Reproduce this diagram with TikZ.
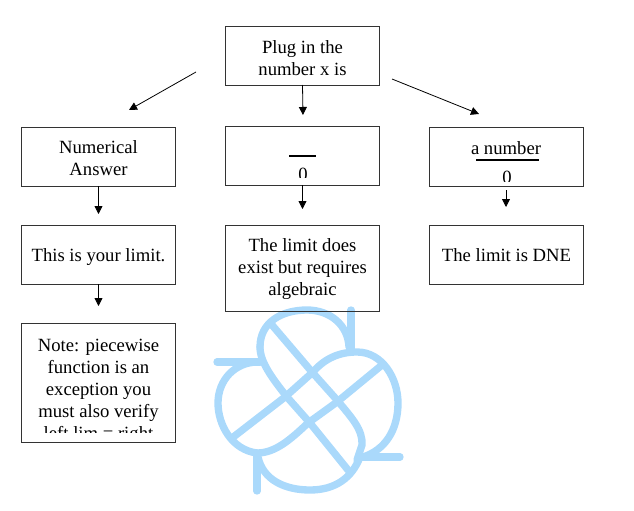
\documentclass[tikz,border=0pt]{standalone}
\usepackage{fontspec}
\setmainfont{Liberation Serif}
\usetikzlibrary{arrows.meta}
\definecolor{markblue}{RGB}{170,217,251}
\tikzset{
	flowbox/.style={draw=black!80, line width=0.7pt, minimum width=116pt, align=center, inner sep=0pt},
	flowtext/.style={align=center, inner sep=0pt, font=\fontsize{14}{16.5}\selectfont},
	flowarrow/.style={line width=0.6pt, -{Triangle[length=6pt,width=6pt]}},
	markline/.style={draw=markblue, line width=5.5pt, line cap=round, line join=round},
}

\begin{document}
\begin{tikzpicture}[x=0.75pt, y=-0.75pt]
	\useasboundingbox (0, 0) rectangle (634, 510);

	%%%%% watermark %%%%%
	\draw[markline] (351, 310) -- (351, 350);
	\draw[markline] (217, 362) -- (260, 362);
	\draw[markline] (257, 455) -- (257, 491);
	\draw[markline] (361, 457) -- (400, 457);
	\draw[markline] (272, 325) -- (312, 372) -- (337, 400) .. controls (352, 418) and (363, 430) .. (362, 445) -- (357, 460);
	\draw[markline] (260, 347) .. controls (260, 362) and (272, 378) .. (287, 397) -- (310, 423) -- (348, 470);
	\draw[markline] (382, 365) -- (337, 402) -- (308, 423) .. controls (290, 440) and (275, 453) .. (257, 453);
	\draw[markline] (232, 438) -- (285, 397) -- (313, 372) .. controls (325, 358) and (340, 352) .. (357, 352)
		.. controls (382, 352) and (398, 378) .. (398, 403)
		.. controls (398, 430) and (385, 450) .. (363, 457);
	\draw[markline] (349, 347) .. controls (348, 325) and (330, 310) .. (307, 310)
		.. controls (282, 310) and (260, 322) .. (260, 347);
	\draw[markline] (360, 457) .. controls (352, 478) and (335, 490) .. (310, 490)
		.. controls (285, 490) and (263, 480) .. (258, 457);
	\draw[markline] (258, 362) .. controls (235, 362) and (218, 380) .. (218, 403)
		.. controls (218, 425) and (232, 450) .. (257, 453);

	%%%%% boxes %%%%%
	\node[flowbox, minimum height=44.25pt] (plug) at (302.5, 55.5) {};
	\node[flowtext, anchor=base] (plugtext) at (302.5, 75.5) {Plug in the\\number x is};

	\node[flowbox, minimum height=44.25pt] (numeric) at (98.5, 156.5) {};
	\node[flowtext, anchor=base] (numerictext) at (98.5, 175.5) {Numerical\\Answer};

	\node[flowbox, minimum height=44.25pt] (zerobox) at (302.5, 155.5) {};
	\node[flowbox, minimum height=44.25pt] (numberbox) at (506.5, 156.5) {};
	\node[flowtext, anchor=base] (numbertext) at (506, 154) {a number};

	\begin{scope}
		\clip (280, 130) rectangle (325, 177.5);
		\node[flowtext, anchor=base] (zerotop) at (303, 180) {0};
	\end{scope}
	\begin{scope}
		\clip (490, 160) rectangle (525, 181);
		\node[flowtext, anchor=base] (zeroright) at (507, 183) {0};
	\end{scope}
	\coordinate (barmidl) at (289, 156);
	\coordinate (barmidr) at (316, 156);
	\coordinate (barnuml) at (476, 160);
	\coordinate (barnumr) at (539, 160);
	\draw[line width=0.8pt] (barmidl) -- (barmidr);
	\draw[line width=1.5pt] (barnuml) -- (barnumr);

	\node[flowbox, minimum height=44.25pt] (yourlimit) at (98.5, 254.5) {};
	\node[flowtext, anchor=base] (yourlimittext) at (98.5, 261) {This is your limit.};

	\node[flowbox, minimum height=64.5pt] (algebraic) at (302.5, 268) {};
	\node[flowtext, anchor=base] (algebraictext) at (302.5, 295) {The limit does\\exist but requires\\algebraic};

	\node[flowbox, minimum height=44.25pt] (dne) at (506.5, 254.5) {};
	\node[flowtext, anchor=base] (dnetext) at (506.5, 261) {The limit is DNE};

	\node[flowbox, minimum height=89.25pt] (note) at (98.5, 382.5) {};
	\begin{scope}
		\clip (25, 326) rectangle (172, 432.5);
		\node[flowtext, anchor=north] (notetext) at (98.5, 339) {Note: piecewise\\function is an\\exception you\\must also verify\\left lim = right};
	\end{scope}

	%%%%% arrows %%%%%
	\coordinate (leftstart) at (196, 72);
	\coordinate (leftend) at (129, 110);
	\coordinate (midstart) at (302.5, 85);
	\coordinate (midend) at (303, 115);
	\coordinate (rightstart) at (392, 79);
	\coordinate (rightend) at (479, 114);
	\draw[flowarrow] (leftstart) -- (leftend);
	\draw[flowarrow] (midstart) -- (midend);
	\draw[flowarrow] (rightstart) -- (rightend);

	\coordinate (numericend) at (98.5, 214);
	\coordinate (yourlimitend) at (98.5, 306);
	\coordinate (zeroend) at (302.5, 209);
	\coordinate (numberstart) at (506, 190);
	\coordinate (numberend) at (506, 207);
	\draw[flowarrow] (numeric.south) -- (numericend);
	\draw[flowarrow] (yourlimit.south) -- (yourlimitend);
	\draw[flowarrow] (zerobox.south) -- (zeroend);
	\draw[flowarrow] (numberstart) -- (numberend);
\end{tikzpicture}
\end{document}
